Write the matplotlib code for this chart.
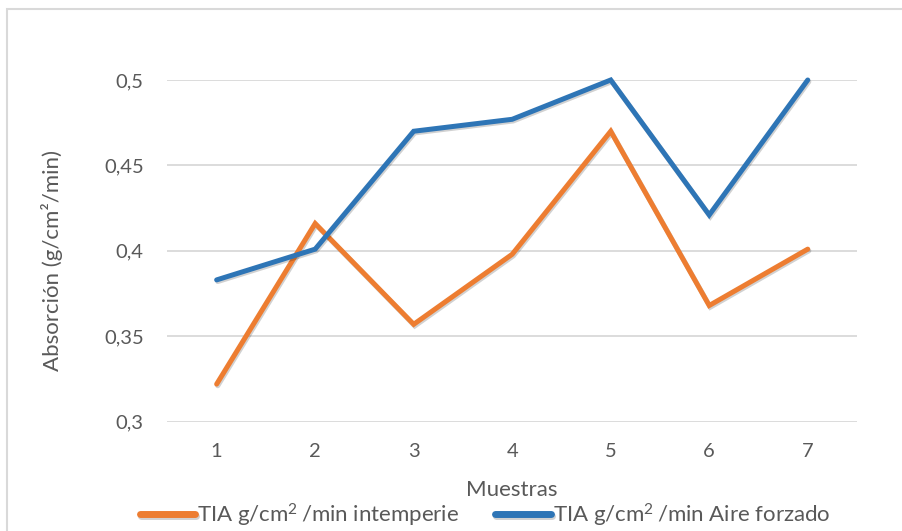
import matplotlib

matplotlib.use("Agg")
import matplotlib.pyplot as plt
import matplotlib.patheffects as pe
from matplotlib.patches import Rectangle

# absorption per sample, two curing conditions
muestras = [1, 2, 3, 4, 5, 6, 7]
intemperie = [0.322, 0.416, 0.357, 0.398, 0.470, 0.368, 0.401]
aire_forzado = [0.383, 0.401, 0.470, 0.477, 0.500, 0.421, 0.500]
y_ticks = [0.3, 0.35, 0.4, 0.45, 0.5]
y_tick_labels = ["0,3", "0,35", "0,4", "0,45", "0,5"]

ORANGE = "#ED7D31"
BLUE = "#2E75B6"
GREY_TEXT = "#595959"
GRID = "#D9D9D9"

plt.rcParams["font.family"] = ["Lato", "DejaVu Sans"]
plt.rcParams["mathtext.default"] = "regular"

W, H = 902, 531
fig = plt.figure(figsize=(W / 100, H / 100), dpi=100)

# chart-area border (runs off the right and bottom edges)
fig.patches.append(Rectangle((7 / W, -0.1), 1.2, 1 - 9 / H + 0.1,
                             transform=fig.transFigure, fill=False,
                             edgecolor="#D9D9D9", linewidth=1.5))

ax = fig.add_axes([167.4 / W, 1 - 421.7 / H, (857 - 167.4) / W, (421.7 - 80) / H])

shadow = [pe.SimpleLineShadow(offset=(0.8, -1.2), alpha=0.18, shadow_color="k"), pe.Normal()]
ax.plot(muestras, intemperie, color=ORANGE, lw=3.6, solid_capstyle="round",
        solid_joinstyle="miter", clip_on=False, path_effects=shadow, zorder=3,
        label=r"TIA g/cm$^{2}\,$/min intemperie")
ax.plot(muestras, aire_forzado, color=BLUE, lw=3.6, solid_capstyle="round",
        solid_joinstyle="miter", clip_on=False, path_effects=shadow, zorder=3,
        label=r"TIA g/cm$^{2}\,$/min Aire forzado")

ax.set_xlim(0.5, 7.5)
ax.set_ylim(0.3, 0.5)
ax.set_xticks(muestras)
ax.set_xticklabels([str(m) for m in muestras])
ax.set_yticks(y_ticks)
ax.set_yticklabels(y_tick_labels)
ax.tick_params(length=0, labelsize=14.5, labelcolor=GREY_TEXT)
ax.tick_params(axis="y", pad=17)
ax.tick_params(axis="x", pad=15)
ax.grid(axis="y", color=GRID, lw=1.3)
ax.set_axisbelow(True)
for s in ax.spines.values():
    s.set_visible(False)

ax.set_xlabel("Muestras", fontsize=16, color=GREY_TEXT, va="center")
ax.xaxis.set_label_coords(0.5, -(490 - 421.7) / 341.7)
ax.set_ylabel("Absorción (g/cm²/min)", fontsize=16, color=GREY_TEXT, va="center")
ax.yaxis.set_label_coords((52 - 167.4) / 689.6, 0.473)

leg = fig.legend(loc="center", bbox_to_anchor=(485 / W, 1 - 515 / H), ncol=2,
                 frameon=False, fontsize=16, handlelength=2.5, handletextpad=0.1,
                 columnspacing=1.6, labelcolor=GREY_TEXT, borderpad=0)
for line in leg.get_lines():
    line.set_linewidth(5)
    line.set_solid_capstyle("round")

fig.savefig("out.png", dpi=100)
